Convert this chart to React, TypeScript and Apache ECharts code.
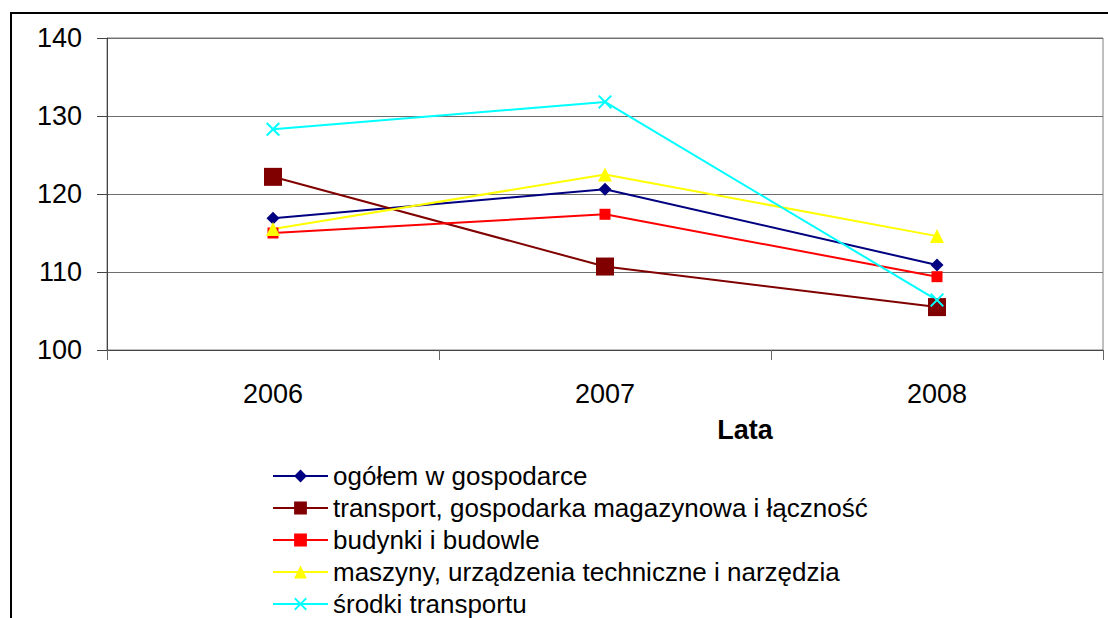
import React, { useEffect, useRef } from "react";
import * as echarts from "echarts";

const years = ["2006", "2007", "2008"];
const seriesNames = [
  "ogółem w gospodarce",
  "transport, gospodarka magazynowa i łączność",
  "budynki i budowle",
  "maszyny, urządzenia techniczne i narzędzia",
  "środki transportu",
];
const ogolem = [116.9, 120.6, 110.9];
const transport = [122.2, 110.7, 105.5];
const budynki = [115.0, 117.4, 109.4];
const maszyny = [115.5, 122.5, 114.6];
const srodki = [128.3, 131.8, 106.4];
const yTicks = { min: 100, max: 140, interval: 10 };
const xAxisTitle = "Lata";

const FONT = "'Liberation Sans', Arial, sans-serif";
const CROSS =
  "path://M0,1L1,0L5,4L9,0L10,1L6,5L10,9L9,10L5,6L1,10L0,9L4,5Z";

export default function App() {
  const ref = useRef<HTMLDivElement>(null);
  useEffect(() => {
    if (!ref.current) return;
    const chart = echarts.init(ref.current, null, { renderer: "svg" });
    const mk = (
      name: string,
      data: number[],
      color: string,
      symbol: string,
      size: number
    ) => ({
      name,
      type: "line",
      data,
      symbol,
      symbolSize: size,
      showAllSymbol: true,
      lineStyle: { color, width: 2 },
      itemStyle: { color },
      emphasis: { disabled: true },
    });
    chart.setOption({
      animation: false,
      textStyle: { fontFamily: FONT },
      grid: {
        left: 107,
        top: 38,
        right: 5,
        bottom: 268,
        show: true,
        borderColor: "#808080",
        borderWidth: 1,
        outerBoundsMode: "none",
      },
      xAxis: {
        type: "category",
        data: years,
        boundaryGap: true,
        axisLine: { lineStyle: { color: "#444", width: 1 } },
        axisTick: { show: true, length: 10, lineStyle: { color: "#666" } },
        axisLabel: { fontSize: 27, color: "#000", margin: 30, fontFamily: FONT },
        splitLine: { show: false },
      },
      yAxis: {
        type: "value",
        min: yTicks.min,
        max: yTicks.max,
        interval: yTicks.interval,
        axisLine: { show: true, lineStyle: { color: "#444", width: 1 } },
        axisTick: { show: true, length: 10, lineStyle: { color: "#444" } },
        axisLabel: { fontSize: 27, color: "#000", margin: 25, fontFamily: FONT },
        splitLine: { show: true, lineStyle: { color: "#6e6e6e", width: 1 } },
      },
      legend: {
        orient: "vertical",
        left: 267,
        top: 458,
        height: 220,
        itemWidth: 55,
        itemHeight: 16,
        itemGap: 6,
        textStyle: { fontSize: 26, lineHeight: 25, color: "#000", fontFamily: FONT },
        data: seriesNames,
      },
      graphic: [
        {
          type: "rect",
          silent: true,
          shape: { x: 11, y: 13, width: 1300, height: 800 },
          style: { fill: "none", stroke: "#000", lineWidth: 2 },
        },
        {
          type: "text",
          silent: true,
          x: 745,
          y: 430,
          style: {
            text: xAxisTitle,
            fontSize: 27,
            fontWeight: "bold",
            fontFamily: FONT,
            fill: "#000",
            align: "center",
            verticalAlign: "middle",
          },
        },
      ],
      series: [
        mk(seriesNames[0], ogolem, "#000080", "diamond", 13),
        mk(seriesNames[1], transport, "#800000", "rect", 18),
        mk(seriesNames[2], budynki, "#FF0000", "rect", 11),
        mk(seriesNames[3], maszyny, "#FFFF00", "triangle", 14),
        mk(seriesNames[4], srodki, "#00FFFF", CROSS, 14),
      ],
    });
    return () => chart.dispose();
  }, []);
  return (
    <div
      ref={ref}
      style={{ position: "fixed", left: 0, top: 0, width: 1108, height: 618, background: "#fff" }}
    />
  );
}
